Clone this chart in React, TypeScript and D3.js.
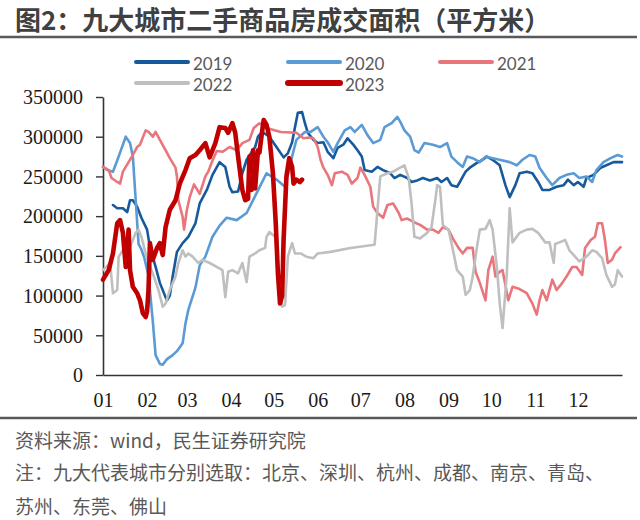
import * as d3 from "d3";
import React, { useEffect, useRef } from "react";

// [day of year, area in m²]
type Pt = [number, number];

const seriesNames = ["2019", "2020", "2021", "2022", "2023"];
const monthLabels = ["01", "02", "03", "04", "05", "06", "07", "08", "09", "10", "11", "12"];
const yTicks = [0, 50000, 100000, 150000, 200000, 250000, 300000, 350000];

const s2019: Pt[] = [
  [7, 214000], [10, 210000], [14, 210000], [17, 205000], [19, 220000], [21, 220000], [24, 212000],
  [27, 198000], [31, 183000], [33, 161000], [37, 136000], [40, 116000], [44, 98000], [45, 94000],
  [47, 100000], [49, 124000], [52, 155000], [56, 166000], [60, 174000], [65, 191000], [68, 216000],
  [73, 233000], [77, 252000], [82, 268000], [86, 262000], [89, 237000], [91, 230000], [95, 231000],
  [98, 254000], [101, 271000], [107, 287000], [109, 300000], [112, 306000], [117, 300000],
  [122, 287000], [127, 274000], [130, 279000], [133, 293000], [135, 312000], [137, 330000],
  [140, 331000], [142, 317000], [144, 305000], [148, 296000], [151, 292000], [155, 293000],
  [158, 281000], [162, 273000], [165, 286000], [169, 290000], [172, 298000], [176, 290000],
  [179, 283000], [182, 275000], [184, 258000], [189, 256000], [193, 262000], [197, 258000],
  [202, 254000], [205, 248000], [209, 252000], [214, 248000], [217, 243000], [221, 245000],
  [225, 248000], [230, 245000], [235, 248000], [238, 243000], [242, 248000], [245, 239000],
  [249, 237000], [251, 243000], [255, 256000], [258, 261000], [263, 267000], [267, 271000],
  [270, 275000], [274, 271000], [279, 264000], [283, 239000], [286, 224000], [290, 239000],
  [293, 254000], [298, 256000], [302, 254000], [306, 243000], [309, 233000], [314, 233000],
  [319, 237000], [324, 239000], [327, 246000], [331, 239000], [334, 243000], [338, 237000],
  [340, 248000], [345, 252000], [350, 261000], [354, 264000], [359, 268000], [365, 268000],
];

const s2020: Pt[] = [
  [0, 262000], [3, 258000], [7, 256000], [10, 270000], [13, 285000], [16, 300000], [19, 292000],
  [21, 275000], [23, 220000], [25, 165000], [27, 158000], [29, 148000], [32, 125000], [35, 68000],
  [37, 25000], [40, 14000], [42, 13000], [45, 20000], [49, 25000], [52, 30000], [56, 40000],
  [58, 65000], [60, 82000], [65, 110000], [68, 138000], [72, 149000], [77, 174000], [82, 188000],
  [87, 198000], [94, 195000], [101, 204000], [108, 229000], [115, 254000], [122, 246000],
  [128, 237000], [133, 275000], [136, 296000], [142, 306000], [146, 306000], [151, 312000],
  [155, 300000], [158, 293000], [162, 281000], [165, 292000], [170, 308000], [174, 312000],
  [177, 306000], [182, 315000], [186, 302000], [190, 292000], [195, 296000], [198, 312000],
  [203, 317000], [207, 325000], [209, 319000], [212, 308000], [216, 300000], [219, 283000],
  [222, 280000], [226, 292000], [232, 290000], [237, 287000], [242, 292000], [245, 275000],
  [249, 268000], [253, 262000], [256, 275000], [260, 273000], [265, 268000], [269, 275000],
  [274, 273000], [279, 271000], [286, 268000], [291, 264000], [295, 271000], [300, 277000],
  [304, 275000], [307, 261000], [312, 248000], [316, 239000], [321, 248000], [326, 252000],
  [331, 254000], [335, 248000], [340, 250000], [344, 243000], [347, 258000], [352, 268000],
  [357, 273000], [362, 277000], [365, 275000],
];

const s2021: Pt[] = [
  [0, 262000], [4, 258000], [6, 248000], [10, 243000], [12, 241000], [14, 256000], [18, 268000],
  [21, 277000], [24, 287000], [26, 290000], [30, 308000], [32, 306000], [35, 300000], [37, 306000],
  [40, 296000], [44, 283000], [47, 273000], [51, 261000], [52, 250000], [53, 220000], [56, 199000],
  [57, 183000], [59, 208000], [61, 224000], [64, 240000], [68, 228000], [72, 250000], [74, 256000],
  [77, 270000], [80, 282000], [84, 281000], [89, 287000], [94, 283000], [98, 292000], [103, 296000],
  [106, 311000], [110, 317000], [115, 311000], [125, 306000], [136, 305000], [141, 298000],
  [145, 299000], [148, 298000], [151, 287000], [153, 271000], [155, 261000], [158, 252000],
  [161, 239000], [163, 254000], [168, 256000], [172, 252000], [175, 241000], [179, 248000],
  [181, 261000], [184, 252000], [188, 237000], [190, 212000], [193, 204000], [197, 198000],
  [200, 214000], [204, 216000], [208, 204000], [210, 195000], [214, 197000], [218, 193000],
  [223, 189000], [228, 183000], [232, 183000], [236, 179000], [239, 186000], [243, 183000],
  [246, 172000], [250, 160000], [253, 153000], [256, 160000], [260, 160000], [262, 130000],
  [265, 116000], [269, 94000], [271, 132000], [274, 149000], [276, 124000], [279, 130000],
  [281, 132000], [285, 94000], [288, 111000], [292, 109000], [298, 103000], [302, 90000],
  [305, 76000], [307, 94000], [309, 107000], [312, 94000], [316, 120000], [319, 107000],
  [323, 116000], [326, 124000], [330, 136000], [333, 136000], [337, 126000], [339, 160000],
  [343, 170000], [346, 174000], [348, 191000], [351, 191000], [353, 170000], [355, 141000],
  [358, 145000], [360, 153000], [364, 161000],
];

const s2022: Pt[] = [
  [0, 132000], [5, 141000], [7, 103000], [10, 107000], [11, 149000], [14, 157000], [19, 161000],
  [23, 179000], [25, 183000], [27, 174000], [30, 153000], [32, 141000], [35, 128000], [39, 107000],
  [42, 86000], [44, 90000], [47, 107000], [51, 124000], [53, 141000], [56, 157000], [58, 149000],
  [60, 153000], [63, 149000], [67, 141000], [70, 145000], [75, 141000], [80, 136000], [84, 132000],
  [86, 98000], [88, 130000], [91, 132000], [95, 128000], [98, 141000], [101, 117000], [103, 149000],
  [107, 153000], [110, 157000], [114, 160000], [115, 174000], [117, 180000], [121, 174000],
  [123, 141000], [126, 86000], [128, 88000], [130, 149000], [133, 166000], [135, 153000],
  [139, 153000], [143, 149000], [148, 147000], [151, 153000], [160, 155000], [174, 160000],
  [191, 164000], [195, 250000], [200, 254000], [204, 256000], [209, 261000], [212, 264000],
  [215, 248000], [217, 216000], [219, 174000], [223, 172000], [228, 179000], [231, 186000],
  [234, 224000], [235, 239000], [237, 237000], [239, 189000], [243, 183000], [245, 167000],
  [249, 132000], [253, 124000], [255, 101000], [258, 107000], [260, 124000], [263, 161000],
  [265, 183000], [269, 184000], [272, 195000], [274, 183000], [277, 136000], [279, 90000],
  [281, 59000], [284, 128000], [286, 210000], [288, 167000], [293, 179000], [298, 183000],
  [302, 184000], [306, 179000], [311, 167000], [314, 167000], [317, 141000], [318, 165000],
  [321, 167000], [325, 170000], [328, 157000], [332, 149000], [335, 143000], [340, 149000],
  [344, 157000], [347, 155000], [351, 147000], [354, 126000], [358, 111000], [360, 114000],
  [362, 132000], [365, 124000],
];

const s2023: Pt[] = [
  [0, 120000], [4, 132000], [7, 153000], [10, 191000], [12, 195000], [14, 179000], [16, 136000],
  [18, 183000], [19, 132000], [21, 111000], [24, 103000], [26, 94000], [28, 78000], [30, 73000],
  [31, 80000], [32, 107000], [33, 166000], [35, 145000], [38, 160000], [40, 166000], [42, 151000],
  [44, 186000], [47, 208000], [51, 220000], [54, 241000], [58, 258000], [61, 273000], [65, 277000],
  [68, 283000], [72, 292000], [75, 274000], [79, 292000], [82, 312000], [86, 311000], [88, 305000],
  [91, 317000], [93, 305000], [95, 275000], [98, 233000], [100, 220000], [102, 222000],
  [103, 275000], [104.5, 233000], [105.5, 283000], [107, 235000], [109, 283000], [110, 280000],
  [112, 308000], [113, 321000], [115, 315000], [117, 300000], [119.5, 254000], [121.5, 191000],
  [123, 128000], [124.5, 90000], [126, 100000], [127, 170000], [129, 250000], [131, 273000],
  [133, 262000], [134, 241000], [136, 246000], [138.5, 243000], [140, 246000],
];

const seriesData: Record<string, Pt[]> = {
  "2019": s2019,
  "2020": s2020,
  "2021": s2021,
  "2022": s2022,
  "2023": s2023,
};

const styles: Record<string, { color: string; width: number; legendWidth: number }> = {
  "2019": { color: "#175a9c", width: 2.6, legendWidth: 4 },
  "2020": { color: "#5b9bd5", width: 2.6, legendWidth: 4 },
  "2021": { color: "#e8767c", width: 2.6, legendWidth: 4 },
  "2022": { color: "#bfbfbf", width: 2.6, legendWidth: 4 },
  "2023": { color: "#c00000", width: 4.6, legendWidth: 6 },
};

const W = 640;
const H = 520;
const plot = { left: 103, right: 622, top: 97, bottom: 375 };
const cjkFont = "'Noto Sans CJK SC', 'Noto Sans', sans-serif";
const serifFont = "'Liberation Serif', 'DejaVu Serif', serif";

const App: React.FC = () => {
  const svgRef = useRef<SVGSVGElement>(null);

  useEffect(() => {
    const svg = d3.select(svgRef.current);
    svg.selectAll("*").remove();

    const x = d3.scaleLinear().domain([0, 365]).range([plot.left, plot.right]);
    const y = d3.scaleLinear().domain([0, 350000]).range([plot.bottom, plot.top]);

    // title
    svg
      .append("text")
      .attr("x", 15)
      .attr("y", 18)
      .attr("dominant-baseline", "central")
      .style("font-family", cjkFont)
      .style("font-size", "26px")
      .style("font-weight", 700)
      .style("fill", "#404040")
      .text("图2：九大城市二手商品房成交面积（平方米）");

    svg
      .append("line")
      .attr("x1", 0)
      .attr("x2", 637)
      .attr("y1", 37)
      .attr("y2", 37)
      .attr("stroke", "#595959")
      .attr("stroke-width", 2.5);

    // legend
    const legendCols = [136, 288, 440];
    const legendRows = [62, 83];
    const legend = svg.append("g");
    seriesNames.forEach((name, i) => {
      const lx = legendCols[i % 3];
      const ly = legendRows[Math.floor(i / 3)];
      legend
        .append("line")
        .attr("x1", lx)
        .attr("x2", lx + 52)
        .attr("y1", ly)
        .attr("y2", ly)
        .attr("stroke", styles[name].color)
        .attr("stroke-width", styles[name].legendWidth)
        .attr("stroke-linecap", "round");
      legend
        .append("text")
        .attr("x", lx + 57)
        .attr("y", ly + 1)
        .attr("dominant-baseline", "central")
        .style("font-family", "Lato, 'Liberation Sans', sans-serif")
        .style("font-size", "17px")
        .style("fill", "#595959")
        .text(name);
    });

    // y axis
    const yAxis = svg
      .append("g")
      .attr("transform", `translate(${plot.left},0)`)
      .call(d3.axisLeft(y).tickValues(yTicks).tickSize(7).tickSizeOuter(0).tickPadding(13).tickFormat(d3.format("d")));
    yAxis.select(".domain").attr("stroke", "#333").attr("stroke-width", 1.6);
    yAxis.selectAll("line").attr("stroke", "#333").attr("stroke-width", 1.4);
    yAxis
      .selectAll("text")
      .attr("dy", "0.34em")
      .style("font-family", serifFont)
      .style("font-size", "20px")
      .style("fill", "#1a1a1a");

    // x axis with month labels at month starts
    const yearStart = new Date(2019, 0, 1);
    const monthDays = d3.timeMonths(yearStart, new Date(2020, 0, 1)).map((m) => d3.timeDay.count(yearStart, m));
    const xAxis = svg
      .append("g")
      .attr("transform", `translate(0,${plot.bottom})`)
      .call(
        d3
          .axisBottom(x)
          .tickValues(monthDays)
          .tickSize(0)
          .tickSizeOuter(0)
          .tickPadding(18)
          .tickFormat((_, i) => monthLabels[i])
      );
    xAxis.select(".domain").attr("stroke", "#333").attr("stroke-width", 1.6);
    xAxis
      .selectAll("text")
      .style("font-family", serifFont)
      .style("font-size", "20px")
      .style("fill", "#1a1a1a");

    // series
    const line = d3
      .line<Pt>()
      .x((d) => x(d[0]))
      .y((d) => y(d[1]));

    svg
      .append("g")
      .attr("fill", "none")
      .selectAll("path")
      .data(seriesNames)
      .join("path")
      .attr("d", (name) => line(seriesData[name]))
      .attr("stroke", (name) => styles[name].color)
      .attr("stroke-width", (name) => styles[name].width)
      .attr("stroke-linejoin", "round")
      .attr("stroke-linecap", "round");

    // footer
    svg
      .append("line")
      .attr("x1", 0)
      .attr("x2", 637)
      .attr("y1", 418)
      .attr("y2", 418)
      .attr("stroke", "#595959")
      .attr("stroke-width", 2.5);

    const notes = [
      "资料来源：wind，民生证券研究院",
      "注：九大代表城市分别选取：北京、深圳、杭州、成都、南京、青岛、",
      "苏州、东莞、佛山",
    ];
    const noteY = [439, 471, 505];
    notes.forEach((t, i) => {
      svg
        .append("text")
        .attr("x", 15)
        .attr("y", noteY[i])
        .attr("dominant-baseline", "central")
        .style("font-family", cjkFont)
        .style("font-size", "19px")
        .style("fill", "#595959")
        .text(t);
    });
  }, []);

  return (
    <svg
      ref={svgRef}
      width={W}
      height={H}
      style={{ position: "absolute", left: 0, top: 0, background: "#fff" }}
    />
  );
};

export default App;
